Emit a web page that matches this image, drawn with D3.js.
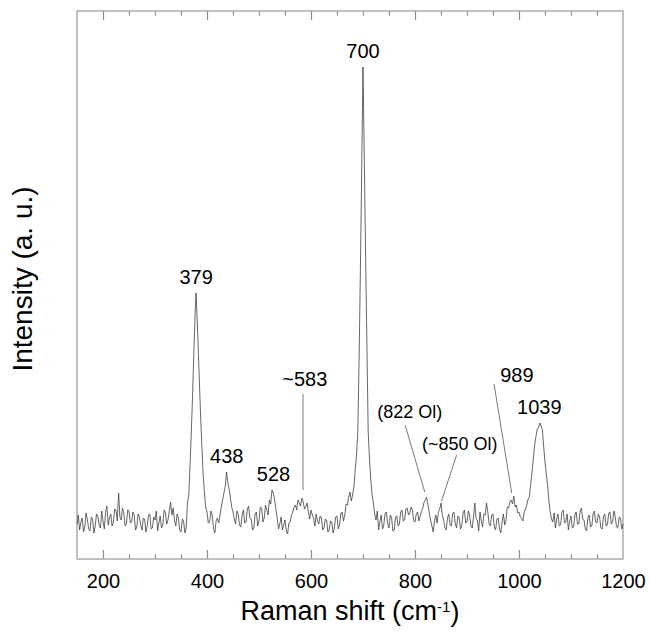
<!DOCTYPE html>
<html>
<head>
  <meta charset="utf-8">
  <title>Raman spectrum</title>
  <script src="https://d3js.org/d3.v7.min.js"></script>
  <style>
    body { margin: 0; background: #fff; }
    text { font-family: "Liberation Sans", Arial, sans-serif; fill: #000; }
  </style>
</head>
<body>
  <svg id="chart"></svg>
  <script>
    // Raman shift (cm-1), intensity (a. u.)
    var spectrum = [
      [150,35],[152.5,44],[155,29],[157.5,37],[160,41],[162.5,27],[165,32],[167.5,46],[170,39],[172.5,30],
      [175,28],[177.5,42],[180,40],[182.5,26],[185,33],[187.5,45],[190,43],[192.5,34],[195,31],[197.5,48],
      [200,38],[202.5,30],[205,47],[207.5,53],[210,34],[212.5,41],[215,45],[217.5,33],[220,37],[222.5,50],
      [225,49],[227.5,38],[230,66],[232.5,42],[235,39],[237.5,51],[240,46],[242.5,33],[245,35],[247.5,49],
      [250,48],[252.5,36],[255,37],[257.5,47],[260,44],[262.5,29],[265,32],[267.5,45],[270,42],[272.5,34],
      [275,29],[277.5,41],[280,40],[282.5,27],[285,33],[287.5,44],[290,45],[292.5,30],[295,31],[297.5,42],
      [300,39],[302.5,48],[305,28],[307.5,36],[310,43],[312.5,31],[315,34],[317.5,49],[320,47],[322.5,35],
      [325,39],[327.5,48],[330,57],[332.5,44],[335,51],[337.5,38],[340,33],[342.5,45],[345,41],[347.5,29],
      [350,27],[352.5,40],[355,38],[357.5,26],[360,31],[362.5,57],[365,64],[367.5,95],[370,129],[372.5,168],
      [375,212],[377.5,250],[379,266],[380,254],[382.5,220],[385,183],[387.5,146],[390,114],[392.5,86],[395,67],
      [397.5,52],[400,47],[402.5,36],[405,37],[407.5,48],[410,44],[412.5,31],[415,26],[417.5,38],[420,41],
      [422.5,36],[425,44],[427.5,52],[430,59],[432.5,66],[435,72],[437.5,87],[440,77],[442.5,70],[445,61],
      [447.5,52],[450,47],[452.5,40],[455,35],[457.5,48],[460,45],[462.5,34],[465,32],[467.5,44],[470,49],
      [472.5,36],[475,37],[477.5,50],[480,53],[482.5,41],[485,40],[487.5,29],[490,31],[492.5,45],[495,47],
      [497.5,33],[500,38],[502.5,52],[505,51],[507.5,37],[510,41],[512.5,54],[515,49],[517.5,44],[520,59],
      [522.5,55],[525,69],[527.5,66],[530,59],[532.5,50],[535,41],[537.5,30],[540,35],[542.5,42],[545,29],
      [547.5,34],[550,39],[552.5,28],[555,25],[557.5,36],[560,37],[562.5,44],[565,47],[567.5,52],[570,54],
      [572.5,49],[575,59],[577.5,56],[580,53],[582.5,61],[585,57],[587.5,50],[590,52],[592.5,56],[595,47],
      [597.5,40],[600,49],[602.5,44],[605,41],[607.5,33],[610,45],[612.5,38],[615,35],[617.5,43],[620,41],
      [622.5,29],[625,31],[627.5,40],[630,39],[632.5,27],[635,29],[637.5,38],[640,37],[642.5,26],[645,31],
      [647.5,42],[650,43],[652.5,30],[655,34],[657.5,46],[660,47],[662.5,38],[665,44],[667.5,55],[670,54],
      [672.5,62],[675,67],[677.5,58],[680,64],[682.5,72],[685,89],[687.5,104],[690,127],[692.5,200],[695,289],
      [697.5,390],[700,492],[702.5,400],[705,304],[707.5,215],[710,127],[712.5,100],[715,79],[717.5,64],[720,56],
      [722.5,45],[725,39],[727.5,48],[730,29],[732.5,37],[735,44],[737.5,30],[740,34],[742.5,46],[745,47],
      [747.5,35],[750,31],[752.5,44],[755,41],[757.5,28],[760,29],[762.5,42],[765,43],[767.5,33],[770,35],
      [772.5,47],[775,49],[777.5,38],[780,39],[782.5,50],[785,51],[787.5,44],[790,46],[792.5,52],[795,49],
      [797.5,38],[800,37],[802.5,45],[805,47],[807.5,38],[810,43],[812.5,48],[815,51],[817.5,57],[820,59],
      [822,62],[825,54],[827.5,46],[830,39],[832.5,33],[835,27],[837.5,38],[840,44],[842.5,36],[845,47],
      [847.5,50],[850,56],[852.5,44],[855,39],[857.5,31],[860,29],[862.5,41],[865,45],[867.5,34],[870,33],
      [872.5,46],[875,47],[877.5,35],[880,31],[882.5,43],[885,41],[887.5,30],[890,33],[892.5,46],[895,49],
      [897.5,36],[900,37],[902.5,48],[905,44],[907.5,33],[910,31],[912.5,42],[915,56],[917.5,40],[920,39],
      [922.5,28],[925,47],[927.5,38],[930,32],[932.5,45],[935,44],[937.5,56],[940,47],[942.5,35],[945,33],
      [947.5,44],[950,45],[952.5,32],[955,29],[957.5,40],[960,41],[962.5,30],[965,26],[967.5,37],[970,45],
      [972.5,34],[975,39],[977.5,52],[980,51],[982.5,57],[985,59],[987.5,55],[990,63],[992.5,52],[995,54],
      [997.5,46],[1000,47],[1002.5,42],[1005,41],[1007.5,38],[1010,47],[1012.5,50],[1015,54],[1017.5,60],[1020,62],
      [1022.5,75],[1025,87],[1027.5,100],[1030,114],[1032.5,122],[1035,130],[1037.5,131],[1040,136],[1042.5,133],[1045,129],
      [1047.5,112],[1050,97],[1052.5,85],[1055,74],[1057.5,58],[1060,47],[1062.5,40],[1065,37],[1067.5,46],[1070,31],
      [1072.5,40],[1075,45],[1077.5,33],[1080,34],[1082.5,47],[1085,49],[1087.5,36],[1090,37],[1092.5,45],[1095,29],
      [1097.5,38],[1100,43],[1102.5,31],[1105,32],[1107.5,44],[1110,47],[1112.5,35],[1115,35],[1117.5,48],[1120,51],
      [1122.5,40],[1125,39],[1127.5,30],[1130,28],[1132.5,41],[1135,44],[1137.5,32],[1140,33],[1142.5,45],[1145,48],
      [1147.5,37],[1150,36],[1152.5,45],[1155,42],[1157.5,31],[1160,30],[1162.5,43],[1165,45],[1167.5,33],[1170,34],
      [1172.5,46],[1175,47],[1177.5,35],[1180,37],[1182.5,48],[1185,43],[1187.5,32],[1190,31],[1192.5,42],[1195,41],
      [1197.5,30],[1200,35]
    ];

    var majorTicks = [200, 400, 600, 800, 1000, 1200];
    var minorTicks = [250, 300, 350, 450, 500, 550, 650, 700, 750, 850, 900, 950, 1050, 1100, 1150];

    // labels sitting right on top of a peak
    var peakShifts = [379, 438, 528, 700, 1039];
    var peakNames = ['379', '438', '528', '700', '1039'];

    // labels joined to their band by a thin line (label centre, line start, line end; data units)
    var calloutNames = ['~583', '(822 Ol)', '(~850 Ol)', '989'];
    var calloutLabel = [[588, 173], [790, 141], [886, 109], [996, 177]];
    var calloutFrom = [[584.6, 165], [781, 134], [880, 104], [952, 175]];
    var calloutTo = [[584.6, 69], [818.7, 67], [851, 58], [986, 66]];

    var svgWidth = 649;
    var svgHeight = 633;
    var margin = { top: 11, right: 26, bottom: 74, left: 77 };
    var width = svgWidth - margin.left - margin.right;
    var height = svgHeight - margin.top - margin.bottom;

    var svg = d3.select('#chart')
      .attr('width', svgWidth)
      .attr('height', svgHeight);

    var g = svg.append('g')
      .attr('transform', 'translate(' + margin.left + ',' + margin.top + ')');

    var x = d3.scaleLinear().domain([150, 1200]).range([0, width]);
    var y = d3.scaleLinear().domain([0, 548]).range([height, 0]);

    // ticks point inwards, on the bottom and top edges
    function tickAxis(axis, ticks, size) {
      return axis.tickValues(ticks).tickSize(-size).tickFormat('');
    }

    var bottom = g.append('g')
      .attr('transform', 'translate(0,' + height + ')')
      .call(d3.axisBottom(x).tickValues(majorTicks).tickSize(-9).tickPadding(15).tickFormat(d3.format('d')));
    bottom.selectAll('text').style('font-size', '20px').attr('fill', '#000');

    g.append('g')
      .attr('transform', 'translate(0,' + height + ')')
      .call(tickAxis(d3.axisBottom(x), minorTicks, 4.5));
    g.append('g').call(tickAxis(d3.axisTop(x), majorTicks, 9));
    g.append('g').call(tickAxis(d3.axisTop(x), minorTicks, 4.5));

    g.selectAll('.domain').remove();
    g.selectAll('.tick line').attr('stroke', '#8c8c8c').attr('stroke-width', 1.2);
    g.selectAll('.tick').filter(function(d) { return d === 1200; }).select('line').remove();

    g.append('rect')
      .attr('width', width)
      .attr('height', height)
      .attr('fill', 'none')
      .attr('stroke', '#a0a0a0')
      .attr('stroke-width', 1.3);

    var line = d3.line()
      .x(function(d) { return x(d[0]); })
      .y(function(d) { return y(d[1]); });

    g.append('path')
      .datum(spectrum)
      .attr('fill', 'none')
      .attr('stroke', '#404040')
      .attr('stroke-width', 0.8)
      .attr('stroke-linejoin', 'round')
      .attr('d', line);

    g.selectAll('.peak')
      .data(peakShifts)
      .enter().append('text')
      .attr('class', 'peak')
      .attr('x', function(d) { return x(d); })
      .attr('y', function(d) {
        var top = d3.max(spectrum, function(p) { return Math.abs(p[0] - d) <= 3 ? p[1] : 0; });
        return y(top) - 9;
      })
      .attr('text-anchor', 'middle')
      .style('font-size', '20px')
      .text(function(d, i) { return peakNames[i]; });

    g.selectAll('.callout-line')
      .data(calloutNames)
      .enter().append('line')
      .attr('class', 'callout-line')
      .attr('x1', function(d, i) { return x(calloutFrom[i][0]); })
      .attr('y1', function(d, i) { return y(calloutFrom[i][1]); })
      .attr('x2', function(d, i) { return x(calloutTo[i][0]); })
      .attr('y2', function(d, i) { return y(calloutTo[i][1]); })
      .attr('stroke', '#555')
      .attr('stroke-width', 0.8);

    g.selectAll('.callout')
      .data(calloutNames)
      .enter().append('text')
      .attr('class', 'callout')
      .attr('x', function(d, i) { return x(calloutLabel[i][0]); })
      .attr('y', function(d, i) { return y(calloutLabel[i][1]); })
      .attr('text-anchor', 'middle')
      .style('font-size', function(d) { return d.charAt(0) === '(' ? '18px' : '20px'; })
      .text(function(d) { return d; });

    // axis titles
    var xTitle = svg.append('text')
      .attr('x', margin.left + width / 2)
      .attr('y', 620)
      .attr('text-anchor', 'middle')
      .style('font-size', '27px');
    xTitle.append('tspan').text('Raman shift (cm');
    xTitle.append('tspan').attr('dy', '-0.55em').style('font-size', '15px').text('-1');
    xTitle.append('tspan').attr('dy', '0.35em').text(')');

    svg.append('text')
      .attr('transform', 'translate(32,' + 279 + ') rotate(-90)')
      .attr('text-anchor', 'middle')
      .style('font-size', '28px')
      .text('Intensity (a. u.)');
  </script>
</body>
</html>
